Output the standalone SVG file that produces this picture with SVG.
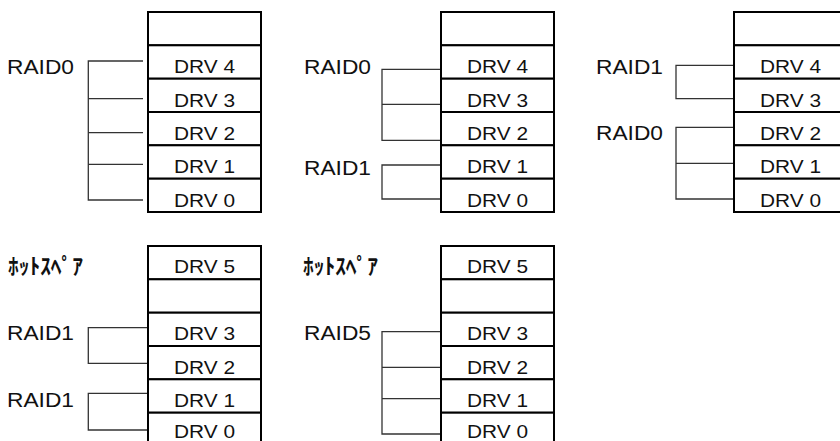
<svg xmlns="http://www.w3.org/2000/svg" width="840" height="441" viewBox="0 0 840 441">
<style>
.cell{fill:#fff;stroke:#000;stroke-width:2}
.drv{font-family:"Liberation Sans",Arial,sans-serif;font-size:17.5px;fill:#111;text-anchor:middle}
.lbl{font-family:"Liberation Sans",Arial,sans-serif;font-size:19.5px;fill:#111}
.jp{font-family:"Noto Sans CJK JP",sans-serif;font-size:22px;font-weight:bold;fill:#111}
.con{fill:none;stroke:#333;stroke-width:1.3}
</style>
<rect width="840" height="441" fill="#fff"/>
<g id="panel1">
  <rect class="cell" x="148" y="12" width="113" height="33.3"/>
  <rect class="cell" x="148" y="45.3" width="113" height="33.4"/>
  <rect class="cell" x="148" y="78.7" width="113" height="33.3"/>
  <rect class="cell" x="148" y="112" width="113" height="33.3"/>
  <rect class="cell" x="148" y="145.3" width="113" height="33.4"/>
  <rect class="cell" x="148" y="178.7" width="113" height="33.3"/>
  <text class="drv" x="204.5" y="73" textLength="61" lengthAdjust="spacingAndGlyphs">DRV 4</text>
  <text class="drv" x="204.5" y="106.5" textLength="61" lengthAdjust="spacingAndGlyphs">DRV 3</text>
  <text class="drv" x="204.5" y="140" textLength="61" lengthAdjust="spacingAndGlyphs">DRV 2</text>
  <text class="drv" x="204.5" y="173" textLength="61" lengthAdjust="spacingAndGlyphs">DRV 1</text>
  <text class="drv" x="204.5" y="206.5" textLength="61" lengthAdjust="spacingAndGlyphs">DRV 0</text>
  <text class="lbl" x="7" y="73.5" textLength="67" lengthAdjust="spacingAndGlyphs">RAID0</text>
</g>
<g id="panel2">
  <rect class="cell" x="441" y="12" width="113" height="33.3"/>
  <rect class="cell" x="441" y="45.3" width="113" height="33.4"/>
  <rect class="cell" x="441" y="78.7" width="113" height="33.3"/>
  <rect class="cell" x="441" y="112" width="113" height="33.3"/>
  <rect class="cell" x="441" y="145.3" width="113" height="33.4"/>
  <rect class="cell" x="441" y="178.7" width="113" height="33.3"/>
  <text class="drv" x="497.5" y="73" textLength="61" lengthAdjust="spacingAndGlyphs">DRV 4</text>
  <text class="drv" x="497.5" y="106.5" textLength="61" lengthAdjust="spacingAndGlyphs">DRV 3</text>
  <text class="drv" x="497.5" y="140" textLength="61" lengthAdjust="spacingAndGlyphs">DRV 2</text>
  <text class="drv" x="497.5" y="173" textLength="61" lengthAdjust="spacingAndGlyphs">DRV 1</text>
  <text class="drv" x="497.5" y="206.5" textLength="61" lengthAdjust="spacingAndGlyphs">DRV 0</text>
  <text class="lbl" x="304" y="73.5" textLength="67" lengthAdjust="spacingAndGlyphs">RAID0</text>
  <text class="lbl" x="304" y="175" textLength="67" lengthAdjust="spacingAndGlyphs">RAID1</text>
</g>
<g id="panel3">
  <rect class="cell" x="734" y="12" width="113" height="33.3"/>
  <rect class="cell" x="734" y="45.3" width="113" height="33.4"/>
  <rect class="cell" x="734" y="78.7" width="113" height="33.3"/>
  <rect class="cell" x="734" y="112" width="113" height="33.3"/>
  <rect class="cell" x="734" y="145.3" width="113" height="33.4"/>
  <rect class="cell" x="734" y="178.7" width="113" height="33.3"/>
  <text class="drv" x="790.5" y="73" textLength="61" lengthAdjust="spacingAndGlyphs">DRV 4</text>
  <text class="drv" x="790.5" y="106.5" textLength="61" lengthAdjust="spacingAndGlyphs">DRV 3</text>
  <text class="drv" x="790.5" y="140" textLength="61" lengthAdjust="spacingAndGlyphs">DRV 2</text>
  <text class="drv" x="790.5" y="173" textLength="61" lengthAdjust="spacingAndGlyphs">DRV 1</text>
  <text class="drv" x="790.5" y="206.5" textLength="61" lengthAdjust="spacingAndGlyphs">DRV 0</text>
  <text class="lbl" x="596" y="73.5" textLength="67" lengthAdjust="spacingAndGlyphs">RAID1</text>
  <text class="lbl" x="596" y="140" textLength="67" lengthAdjust="spacingAndGlyphs">RAID0</text>
</g>
<g id="panel4">
  <rect class="cell" x="148" y="246" width="113" height="33.3"/>
  <rect class="cell" x="148" y="279.3" width="113" height="33.4"/>
  <rect class="cell" x="148" y="312.7" width="113" height="33.3"/>
  <rect class="cell" x="148" y="346" width="113" height="33.3"/>
  <rect class="cell" x="148" y="379.3" width="113" height="33.4"/>
  <rect class="cell" x="148" y="412.7" width="113" height="33.3"/>
  <text class="drv" x="204.5" y="273" textLength="61" lengthAdjust="spacingAndGlyphs">DRV 5</text>
  <text class="drv" x="204.5" y="340" textLength="61" lengthAdjust="spacingAndGlyphs">DRV 3</text>
  <text class="drv" x="204.5" y="373.5" textLength="61" lengthAdjust="spacingAndGlyphs">DRV 2</text>
  <text class="drv" x="204.5" y="406.5" textLength="61" lengthAdjust="spacingAndGlyphs">DRV 1</text>
  <text class="drv" x="204.5" y="437.5" textLength="61" lengthAdjust="spacingAndGlyphs">DRV 0</text>
  <text class="jp" x="8" y="274" textLength="75" lengthAdjust="spacingAndGlyphs">ﾎｯﾄｽﾍﾟｱ</text>
  <text class="lbl" x="7" y="340" textLength="67" lengthAdjust="spacingAndGlyphs">RAID1</text>
  <text class="lbl" x="7" y="407" textLength="67" lengthAdjust="spacingAndGlyphs">RAID1</text>
</g>
<g id="panel5">
  <rect class="cell" x="441" y="246" width="113" height="33.3"/>
  <rect class="cell" x="441" y="279.3" width="113" height="33.4"/>
  <rect class="cell" x="441" y="312.7" width="113" height="33.3"/>
  <rect class="cell" x="441" y="346" width="113" height="33.3"/>
  <rect class="cell" x="441" y="379.3" width="113" height="33.4"/>
  <rect class="cell" x="441" y="412.7" width="113" height="33.3"/>
  <text class="drv" x="497.5" y="273" textLength="61" lengthAdjust="spacingAndGlyphs">DRV 5</text>
  <text class="drv" x="497.5" y="340" textLength="61" lengthAdjust="spacingAndGlyphs">DRV 3</text>
  <text class="drv" x="497.5" y="373.5" textLength="61" lengthAdjust="spacingAndGlyphs">DRV 2</text>
  <text class="drv" x="497.5" y="406.5" textLength="61" lengthAdjust="spacingAndGlyphs">DRV 1</text>
  <text class="drv" x="497.5" y="437.5" textLength="61" lengthAdjust="spacingAndGlyphs">DRV 0</text>
  <text class="jp" x="303" y="274" textLength="75" lengthAdjust="spacingAndGlyphs">ﾎｯﾄｽﾍﾟｱ</text>
  <text class="lbl" x="304" y="340" textLength="67" lengthAdjust="spacingAndGlyphs">RAID5</text>
</g>
<g id="connectors">
  <path class="con" d="M143 61H88.3V200H143M88.3 98.7H143M88.3 132.7H143M88.3 164.3H143"/>
  <path class="con" d="M440 69.3H382V140.3H440M382 104.3H440"/>
  <path class="con" d="M440 165H382V199H440"/>
  <path class="con" d="M733 65.3H676V98.7H733"/>
  <path class="con" d="M733 127.3H676V199H733M676 163.3H733"/>
  <path class="con" d="M147 327.7H88.3V363.3H147"/>
  <path class="con" d="M147 393.3H88.3V430H147"/>
  <path class="con" d="M440 331.7H382V434H440M382 367.3H440M382 398.7H440"/>
</g>
</svg>
